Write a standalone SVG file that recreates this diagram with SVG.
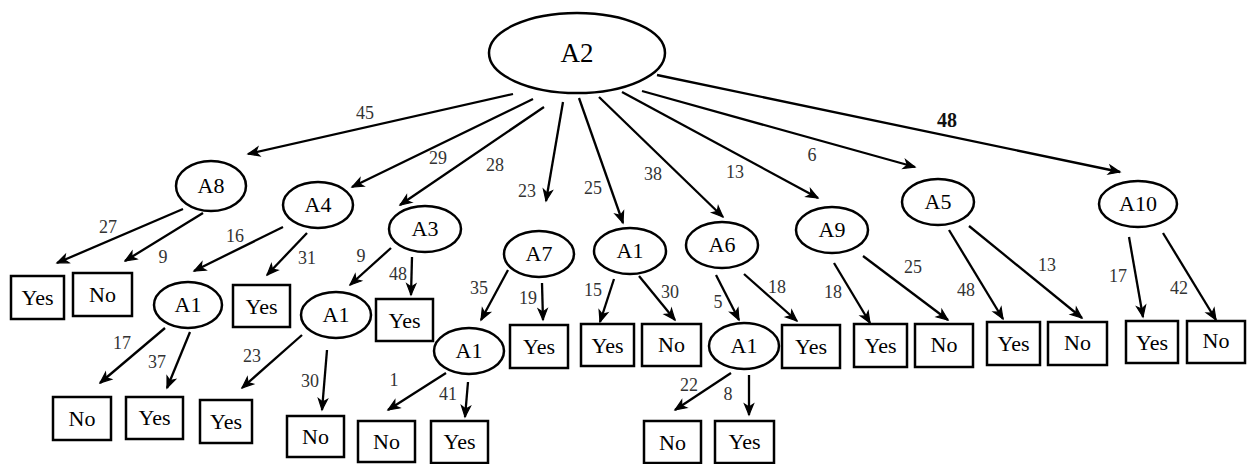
<svg xmlns="http://www.w3.org/2000/svg" width="1249" height="464" viewBox="0 0 1249 464">
<style>
.n ellipse{fill:#fff;stroke:#000;stroke-width:2.5}
.n rect{fill:#fff;stroke:#000;stroke-width:2.5}
.t{font-family:"Liberation Serif","Times New Roman","DejaVu Serif","Noto Serif",serif;font-size:22px;fill:#000;text-anchor:middle}
.c line{stroke:#000;stroke-width:2.3;marker-end:url(#ah)}
.l{font-family:"Liberation Serif","Times New Roman","DejaVu Serif","Noto Serif",serif;font-size:18px;fill:#333;text-anchor:middle}
</style>
<defs>
<marker id="ah" markerUnits="userSpaceOnUse" markerWidth="14" markerHeight="12" refX="11" refY="4.5" orient="auto" overflow="visible">
<path d="M0,0 L11,4.5 L0,9 L3,4.5 Z" fill="#000" stroke="#000" stroke-width="1.2" stroke-linejoin="miter"/>
</marker>
</defs>
<rect width="1249" height="464" fill="#fff"/>
<g id="connectors" class="c">
<line x1="513" y1="94" x2="248" y2="154"/>
<line x1="533" y1="99" x2="352" y2="187"/>
<line x1="544" y1="107" x2="400" y2="205"/>
<line x1="563" y1="102" x2="546" y2="201"/>
<line x1="579" y1="98" x2="623" y2="223"/>
<line x1="599" y1="97" x2="723" y2="217"/>
<line x1="622" y1="92" x2="818" y2="198"/>
<line x1="642" y1="91" x2="915" y2="167"/>
<line x1="657" y1="75" x2="1120" y2="172"/>
<line x1="183" y1="209" x2="57" y2="263"/>
<line x1="203" y1="213" x2="125" y2="261"/>
<line x1="283" y1="227" x2="194" y2="271"/>
<line x1="307" y1="233" x2="267" y2="275"/>
<line x1="391" y1="248" x2="350" y2="285"/>
<line x1="412" y1="257" x2="411" y2="295"/>
<line x1="165" y1="328" x2="100" y2="383"/>
<line x1="190" y1="332" x2="167" y2="388"/>
<line x1="302" y1="335" x2="242" y2="388"/>
<line x1="327" y1="350" x2="322" y2="410"/>
<line x1="508" y1="270" x2="481" y2="320"/>
<line x1="542" y1="283" x2="543" y2="320"/>
<line x1="614" y1="279" x2="600" y2="322"/>
<line x1="639" y1="276" x2="675" y2="320"/>
<line x1="716" y1="275" x2="739" y2="320"/>
<line x1="744" y1="274" x2="797" y2="321"/>
<line x1="446" y1="373" x2="388" y2="410"/>
<line x1="468" y1="382" x2="465" y2="417"/>
<line x1="731" y1="373" x2="675" y2="410"/>
<line x1="749" y1="375" x2="749" y2="415"/>
<line x1="834" y1="263" x2="870" y2="323"/>
<line x1="863" y1="256" x2="948" y2="320"/>
<line x1="949" y1="230" x2="1003" y2="319"/>
<line x1="969" y1="226" x2="1082" y2="318"/>
<line x1="1129" y1="237" x2="1143" y2="317"/>
<line x1="1163" y1="233" x2="1216" y2="320"/>
</g>
<g id="edge-labels">
<text class="l" x="365" y="119">45</text>
<text class="l" x="438" y="164">29</text>
<text class="l" x="495" y="171">28</text>
<text class="l" x="527" y="197">23</text>
<text class="l" x="593" y="194">25</text>
<text class="l" x="653" y="180">38</text>
<text class="l" x="735" y="178">13</text>
<text class="l" x="812" y="161">6</text>
<text class="l" x="947" y="127" style="font-size:20px;font-weight:bold;fill:#111">48</text>
<text class="l" x="108" y="233">27</text>
<text class="l" x="163" y="263">9</text>
<text class="l" x="235" y="242">16</text>
<text class="l" x="307" y="264">31</text>
<text class="l" x="361" y="262">9</text>
<text class="l" x="398" y="280">48</text>
<text class="l" x="122" y="349">17</text>
<text class="l" x="157" y="368">37</text>
<text class="l" x="252" y="362">23</text>
<text class="l" x="310" y="387">30</text>
<text class="l" x="479" y="294">35</text>
<text class="l" x="528" y="304">19</text>
<text class="l" x="593" y="296">15</text>
<text class="l" x="670" y="298">30</text>
<text class="l" x="718" y="308">5</text>
<text class="l" x="777" y="293">18</text>
<text class="l" x="394" y="386">1</text>
<text class="l" x="448" y="400">41</text>
<text class="l" x="689" y="391">22</text>
<text class="l" x="728" y="400">8</text>
<text class="l" x="833" y="298">18</text>
<text class="l" x="913" y="273">25</text>
<text class="l" x="966" y="296">48</text>
<text class="l" x="1047" y="271">13</text>
<text class="l" x="1118" y="282">17</text>
<text class="l" x="1179" y="294">42</text>
</g>
<g id="nodes">
<g id="A2" class="n"><ellipse cx="577" cy="53" rx="88" ry="40"/><text class="t" x="577" y="62" style="font-size:27px">A2</text></g>
<g id="A8" class="n"><ellipse cx="211" cy="186" rx="35" ry="25"/><text class="t" x="211" y="193">A8</text></g>
<g id="A4" class="n"><ellipse cx="318" cy="205" rx="35" ry="23"/><text class="t" x="318" y="212">A4</text></g>
<g id="A3" class="n"><ellipse cx="425" cy="229" rx="36" ry="23"/><text class="t" x="425" y="236">A3</text></g>
<g id="A7" class="n"><ellipse cx="539" cy="254" rx="35" ry="23"/><text class="t" x="539" y="261">A7</text></g>
<g id="A1-mid" class="n"><ellipse cx="630" cy="251" rx="36" ry="23"/><text class="t" x="630" y="258">A1</text></g>
<g id="A6" class="n"><ellipse cx="722" cy="245" rx="36" ry="23"/><text class="t" x="722" y="252">A6</text></g>
<g id="A9" class="n"><ellipse cx="832" cy="230" rx="36" ry="23"/><text class="t" x="832" y="237">A9</text></g>
<g id="A5" class="n"><ellipse cx="938" cy="202" rx="36" ry="23"/><text class="t" x="938" y="209">A5</text></g>
<g id="A10" class="n"><ellipse cx="1138" cy="204" rx="39" ry="23"/><text class="t" x="1138" y="211">A10</text></g>
<g id="A1-a4" class="n"><ellipse cx="188" cy="305" rx="34" ry="23"/><text class="t" x="188" y="312">A1</text></g>
<g id="A1-a3" class="n"><ellipse cx="336" cy="315" rx="35" ry="23"/><text class="t" x="336" y="322">A1</text></g>
<g id="A1-a7" class="n"><ellipse cx="469" cy="351" rx="35" ry="23"/><text class="t" x="469" y="358">A1</text></g>
<g id="A1-a6" class="n"><ellipse cx="744" cy="346" rx="35" ry="23"/><text class="t" x="744" y="353">A1</text></g>
<g id="L1" class="n"><rect x="11" y="276" width="53" height="43"/><text class="t" x="37.5" y="305">Yes</text></g>
<g id="L2" class="n"><rect x="73" y="273" width="59" height="43"/><text class="t" x="102.5" y="302">No</text></g>
<g id="L3" class="n"><rect x="233" y="285" width="57" height="42"/><text class="t" x="261.5" y="314">Yes</text></g>
<g id="L4" class="n"><rect x="376" y="299" width="57" height="42"/><text class="t" x="404.5" y="328">Yes</text></g>
<g id="L5" class="n"><rect x="53" y="397" width="58" height="43"/><text class="t" x="82" y="426">No</text></g>
<g id="L6" class="n"><rect x="126" y="397" width="57" height="42"/><text class="t" x="154.5" y="425">Yes</text></g>
<g id="L7" class="n"><rect x="200" y="400" width="52" height="43"/><text class="t" x="226" y="429">Yes</text></g>
<g id="L8" class="n"><rect x="287" y="416" width="57" height="41"/><text class="t" x="315.5" y="444">No</text></g>
<g id="L9" class="n"><rect x="358" y="421" width="57" height="41"/><text class="t" x="386.5" y="449">No</text></g>
<g id="L10" class="n"><rect x="431" y="421" width="57" height="42"/><text class="t" x="459.5" y="449">Yes</text></g>
<g id="L11" class="n"><rect x="510" y="325" width="58" height="43"/><text class="t" x="539" y="354">Yes</text></g>
<g id="L12" class="n"><rect x="581" y="324" width="53" height="42"/><text class="t" x="607.5" y="353">Yes</text></g>
<g id="L13" class="n"><rect x="642" y="324" width="59" height="42"/><text class="t" x="671.5" y="352">No</text></g>
<g id="L14" class="n"><rect x="644" y="421" width="57" height="42"/><text class="t" x="672.5" y="450">No</text></g>
<g id="L15" class="n"><rect x="715" y="421" width="59" height="42"/><text class="t" x="744.5" y="449">Yes</text></g>
<g id="L16" class="n"><rect x="782" y="325" width="58" height="43"/><text class="t" x="811" y="354">Yes</text></g>
<g id="L17" class="n"><rect x="854" y="324" width="53" height="43"/><text class="t" x="880.5" y="353">Yes</text></g>
<g id="L18" class="n"><rect x="915" y="324" width="58" height="43"/><text class="t" x="944" y="352">No</text></g>
<g id="L19" class="n"><rect x="987" y="322" width="53" height="43"/><text class="t" x="1013.5" y="351">Yes</text></g>
<g id="L20" class="n"><rect x="1048" y="322" width="59" height="43"/><text class="t" x="1077.5" y="350">No</text></g>
<g id="L21" class="n"><rect x="1126" y="321" width="52" height="42"/><text class="t" x="1152" y="350">Yes</text></g>
<g id="L22" class="n"><rect x="1187" y="321" width="58" height="42"/><text class="t" x="1216" y="348">No</text></g>
</g>
</svg>
